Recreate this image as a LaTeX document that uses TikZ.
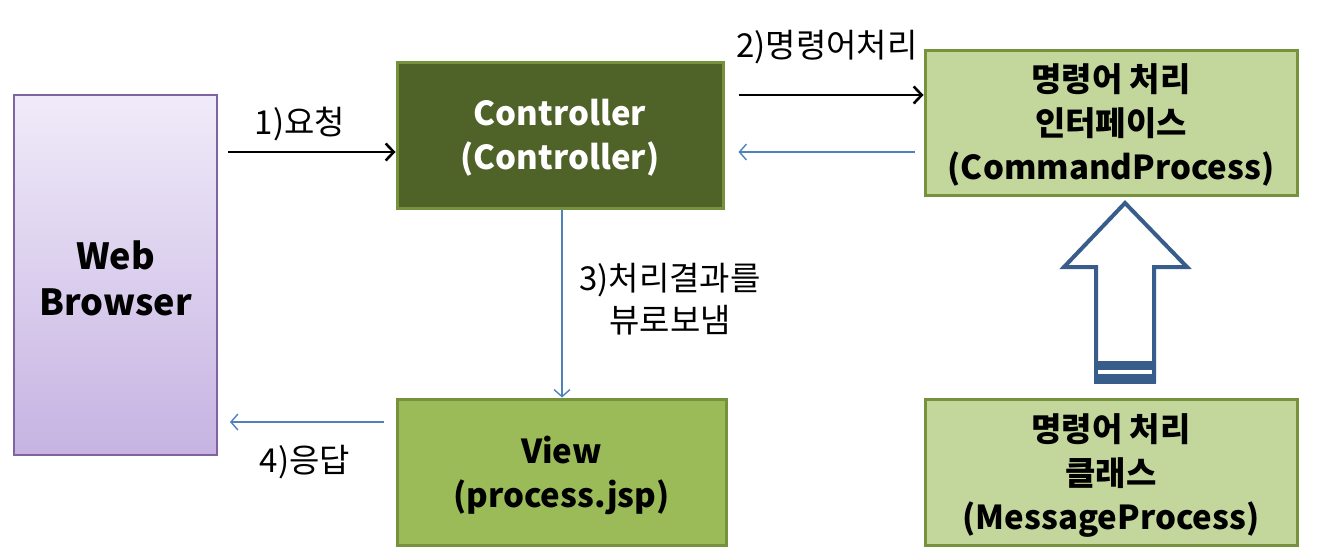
\documentclass[tikz,border=0pt]{standalone}
\usepackage{fontspec}
\setmainfont{Noto Sans CJK KR}
\usetikzlibrary{arrows.meta}
\definecolor{olivedark}{HTML}{4F6228}
\definecolor{oliveline}{HTML}{76923C}
\definecolor{olivelight}{HTML}{C3D69B}
\definecolor{olivemid}{HTML}{9BBB59}
\definecolor{purpline}{HTML}{8064A2}
\definecolor{purptop}{HTML}{F0EBF9}
\definecolor{purpbot}{HTML}{C6B3E2}
\definecolor{bluearr}{HTML}{4F81BD}
\definecolor{bigarrow}{HTML}{385D8A}
\tikzset{
  box/.style={draw=oliveline, line width=3pt, font=\fontsize{33}{44}\selectfont\bfseries, align=center, inner sep=0pt},
  blackarr/.style={line width=2.6pt, -{Straight Barb[length=8pt,width=17pt,line width=2.6pt]}},
  bluearrow/.style={draw=bluearr, line width=1.4pt, -{Straight Barb[length=7pt,width=16pt,line width=1.4pt]}},
  lbl/.style={font=\fontsize{33}{42}\selectfont, align=center, inner sep=0pt}
}
\begin{document}
\begin{tikzpicture}[x=1pt,y=-1pt]
\useasboundingbox (0,0) rectangle (1329,557);
% Web browser
\shade[top color=purptop, bottom color=purpbot, draw=purpline, line width=2pt] (14,95) rectangle (217,455);
\node[font=\fontsize{36}{46}\selectfont\bfseries, align=center] (web) at (115.5,278) {Web\\Browser};
\coordinate (webR1) at (228,152);
\coordinate (webR4) at (230,422);
% Controller
\node[box, fill=olivedark, minimum width=326pt, minimum height=146pt] (ctrl) at (560,135) {};
\node[box, draw=none, text=white] (ctrlt) at (560,138) {Controller\\(Controller)};
% Command
\node[box, fill=olivelight, minimum width=372pt, minimum height=145pt] (cmd) at (1111,122.5) {};
\node[box, draw=none] (cmdt) at (1111,125) {명령어 처리\\인터페이스\\(CommandProcess)};
% View
\node[box, fill=olivemid, minimum width=329pt, minimum height=146pt] (view) at (561.5,472) {};
\node[box, draw=none] (viewt) at (561.5,475) {View\\(process.jsp)};
% Message
\node[box, fill=olivelight, minimum width=372pt, minimum height=146pt] (msg) at (1111,472) {};
\node[box, draw=none] (msgt) at (1111,475) {명령어 처리\\클래스\\(MessageProcess)};

% arrows
\draw[blackarr] (webR1) -- (ctrl.west |- webR1);
\node[lbl] (l1) at (300,124) {1)요청};
\draw[blackarr] (ctrl.east |- 0,95) ++(14,0) -- (cmd.west |- 0,95);
\node[lbl] (l2) at (827,47) {2)명령어처리};
\draw[bluearrow] (cmd.west |- 0,152) ++(-9,0) -- ([xshift=14pt]ctrl.east |- 0,152);
\draw[bluearrow] (ctrl.south -| 562,0) -- (view.north -| 562,0);
\node[lbl] (l3) at (670,299) {3)처리결과를\\뷰로보냄};
\draw[bluearrow] (view.west |- 0,422) ++(-12,0) -- (webR4);
\node[lbl] (l4) at (305,462) {4)응답};

% hollow arrow
\draw[bigarrow, line width=4pt, fill=white, line join=miter]
  (1096,383) -- (1096,267) -- (1064,267) -- (1125,203) -- (1187,267) -- (1154,267) -- (1154,383);
\fill[bigarrow] (1094,361) rectangle (1156,384);
\fill[white] (1098,370) rectangle (1152,374);
\end{tikzpicture}
\end{document}
